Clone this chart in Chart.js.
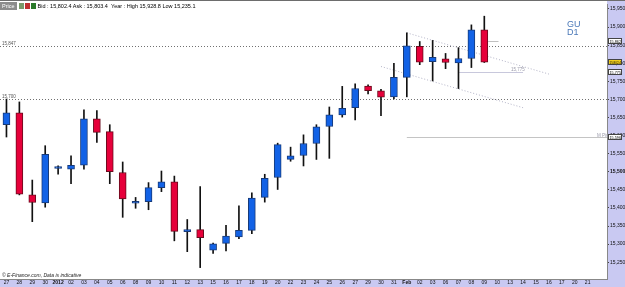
<!DOCTYPE html>
<html>
<head>
<meta charset="utf-8">
<script src="https://cdn.jsdelivr.net/npm/chart.js@4.4.1/dist/chart.umd.min.js"></script>
<style>
  html, body { margin: 0; padding: 0; background: #fff; }
  #wrap { position: relative; width: 625px; height: 287px; overflow: hidden; font-family: "Liberation Sans", Arial, sans-serif; }
  #topline { position: absolute; left: 0; top: 0; width: 625px; height: 1px; background: #6d6d6d; }
  #hdr { position: absolute; left: 0; top: 2px; height: 8px; font-size: 5.5px; line-height: 8px; color: #000; white-space: nowrap; }
  #hdr .btn { display: inline-block; background: #8c8c8c; color: #fff; padding: 0 2px; height: 8px; }
  #hdr .ico { display: inline-block; width: 5px; height: 6px; margin-left: 1px; vertical-align: -1px; }
  #tag { position: absolute; left: 567px; top: 20px; font-size: 9px; line-height: 8px; color: #4a78b8; }
  #copy { position: absolute; left: 2px; top: 272px; font-size: 5px; font-style: italic; color: #222; }
</style>
</head>
<body>
<div id="wrap">
  <canvas id="candles" width="625" height="287"></canvas>
  <div id="topline"></div>
  <div id="hdr"><span class="btn">Price</span> <span class="ico" style="background:#7a9a6a"></span><span class="ico" style="background:#c03030"></span><span class="ico" style="background:#2a7a2a"></span> Bid : 15,802.4 Ask : 15,803.4 &nbsp;Year : High 15,928.8 Low 15,235.1</div>
  <div id="tag">GU<br>D1</div>
  <div id="copy">© E-Finance.com, Data is indicative</div>
</div>
<script>
// x axis day labels (one per slot, incl. empty future slots)
const dayLabels = ['27', '28', '29', '30', '2012', '02', '03', '04', '05', '06', '08', '09', '10', '11', '12', '13',
    '15', '16', '17', '18', '19', '20', '22', '23', '24', '25', '26', '27', '29', '30', '31', 'Feb',
    '02', '03', '06', '07', '08', '09', '10', '13', '14', '15', '16', '17', '20', '21', ''];

// daily GBP/USD candles
const opens = [15630, 15663, 15436, 15414, 15509, 15507, 15518, 15646, 15611, 15498, 15413, 15417, 15456, 15472, 15334, 15340,
    15283, 15302, 15320, 15338, 15429, 15484, 15534, 15545, 15578, 15625, 15657, 15677, 15737, 15724, 15707, 15761,
    15847, 15804, 15812, 15801, 15813, 15892];
const closes = [15663, 15438, 15415, 15548, 15509, 15518, 15646, 15609, 15500, 15425, 15417, 15456, 15472, 15335, 15340, 15318,
    15301, 15322, 15338, 15427, 15482, 15575, 15544, 15578, 15624, 15657, 15675, 15730, 15724, 15706, 15761, 15848,
    15803, 15816, 15802, 15813, 15892, 15803];
const highs = [15701, 15693, 15477, 15572, 15516, 15544, 15671, 15669, 15630, 15527, 15429, 15470, 15502, 15488, 15368, 15459,
    15303, 15352, 15406, 15442, 15493, 15579, 15568, 15602, 15630, 15679, 15736, 15743, 15740, 15728, 15800, 15884,
    15860, 15863, 15827, 15843, 15906, 15930];
const lows = [15596, 15436, 15362, 15402, 15493, 15467, 15507, 15581, 15467, 15374, 15399, 15395, 15445, 15309, 15279, 15235,
    15274, 15281, 15315, 15329, 15416, 15451, 15529, 15516, 15534, 15537, 15651, 15643, 15715, 15655, 15701, 15707,
    15796, 15751, 15785, 15730, 15788, 15802];

// horizontal levels drawn across the chart, with their left-hand labels
const levels = [15847, 15700];
const levelLabels = ['15,847', '15,700'];
// channel lines: [startIndex, startPrice, endIndex, endPrice]
const channel = [[31, 15884, 42, 15770], [29, 15791, 40, 15677]];
const pivot = 15596;
const targetLine = [35, 40, 15775];
const markLine = [37.3, 38.1, 15862];
const lastPrice = 15802.4;
// price boxes on the right axis: [price, text, fill]
const axisBoxes = [[15862, '15,862', '#fff'], [lastPrice, '15,802.4', '#f2cf20'], [15775, '15,775', '#fff'], [pivot, '15,596', '#fff']];

const BLUE = '#1262e6', RED = '#e6003a';

const overlays = {
    id: 'overlays',
    beforeDraw(chart) {
        const { ctx, chartArea: a, width, height } = chart;
        ctx.save();
        ctx.fillStyle = '#fff';
        ctx.fillRect(0, 0, width, height);
        ctx.fillStyle = '#c9c9f2';
        ctx.fillRect(a.right, 0, width - a.right, height);
        ctx.fillRect(0, a.bottom, width, height - a.bottom);
        ctx.restore();
    },
    beforeDatasetsDraw(chart) {
        const { ctx, chartArea: a, scales: { x, y } } = chart;
        ctx.save();
        ctx.lineWidth = 1;
        ctx.setLineDash([1, 2]);
        ctx.strokeStyle = '#707070';
        ctx.font = '4.5px "Liberation Sans", Arial';
        ctx.fillStyle = '#555';
        levels.forEach((lv, i) => {
            const py = Math.round(y.getPixelForValue(lv)) + 0.5;
            ctx.beginPath();
            ctx.moveTo(a.left, py);
            ctx.lineTo(a.right, py);
            ctx.stroke();
            ctx.fillText(levelLabels[i], 2, py - 2);
        });
        ctx.strokeStyle = '#b4b4c8';
        channel.forEach(([i0, p0, i1, p1]) => {
            ctx.beginPath();
            ctx.moveTo(x.getPixelForValue(i0), y.getPixelForValue(p0));
            ctx.lineTo(x.getPixelForValue(i1), y.getPixelForValue(p1));
            ctx.stroke();
        });
        ctx.setLineDash([]);
        // monthly pivot
        ctx.strokeStyle = '#c4c4c4';
        let py = Math.round(y.getPixelForValue(pivot)) + 0.5;
        ctx.beginPath();
        ctx.moveTo(x.getPixelForValue(31), py);
        ctx.lineTo(a.right, py);
        ctx.stroke();
        ctx.fillStyle = '#9a9aaa';
        ctx.fillText('M Piv', a.right - 10, py - 1);
        // target line
        ctx.strokeStyle = '#c8c8dc';
        py = Math.round(y.getPixelForValue(targetLine[2])) + 0.5;
        ctx.beginPath();
        ctx.moveTo(x.getPixelForValue(targetLine[0]), py);
        ctx.lineTo(x.getPixelForValue(targetLine[1]), py);
        ctx.stroke();
        ctx.fillText('15,775', x.getPixelForValue(targetLine[1]) - 12, py - 2);
        // short marker
        ctx.strokeStyle = '#c0c0c0';
        py = Math.round(y.getPixelForValue(markLine[2])) + 0.5;
        ctx.beginPath();
        ctx.moveTo(x.getPixelForValue(markLine[0]), py);
        ctx.lineTo(x.getPixelForValue(markLine[1]), py);
        ctx.stroke();
        ctx.restore();
    },
    afterDraw(chart) {
        const { ctx, chartArea: a, scales: { y } } = chart;
        ctx.save();
        ctx.font = '4px "Liberation Sans", Arial';
        ctx.textBaseline = 'middle';
        axisBoxes.forEach(([v, t, bg]) => {
            const py = Math.round(y.getPixelForValue(v));
            ctx.fillStyle = bg;
            ctx.fillRect(a.right + 1, py - 2, 14, 5);
            ctx.strokeStyle = '#444';
            ctx.strokeRect(a.right + 1.5, py - 2.5, 13, 5);
            ctx.fillStyle = '#000';
            ctx.fillText(t, a.right + 2.5, py + 0.5, 11.5);
        });
        ctx.restore();
    }
};

const createCandleChart = () => {
    const ctx = document.getElementById('candles').getContext('2d');
    const up = opens.map((o, i) => closes[i] >= o);

    new Chart(ctx, {
        type: 'bar',
        data: {
            labels: dayLabels,
            datasets: [{
                label: 'Body',
                data: opens.map((o, i) => [o, closes[i]]),
                backgroundColor: up.map(u => u ? BLUE : RED),
                borderColor: up.map(u => u ? '#173a78' : '#6a0a1c'),
                borderWidth: 1,
                borderSkipped: false,
                barThickness: 7,
                minBarLength: 2,
                grouped: false,
                order: 0
            }, {
                label: 'Wick',
                data: lows.map((l, i) => [l, highs[i]]),
                backgroundColor: '#111',
                barThickness: 1,
                grouped: false,
                order: 1
            }]
        },
        options: {
            responsive: false,
            animation: false,
            devicePixelRatio: 1,
            layout: { padding: { top: 1, left: 0, right: 0, bottom: 0 } },
            plugins: {
                legend: { display: false },
                tooltip: { enabled: false }
            },
            scales: {
                x: {
                    offset: true,
                    afterFit: s => { s.height = 8; },
                    grid: { display: true, drawOnChartArea: false, drawTicks: true, tickLength: 1, color: '#444' },
                    border: { display: true, color: '#888' },
                    ticks: {
                        autoSkip: false,
                        maxRotation: 0,
                        padding: 0,
                        color: '#111',
                        font: ctx => ({ size: 5, family: 'Liberation Sans', weight: (ctx.tick && /[A-Za-z]|2012/.test(ctx.tick.label)) ? 'bold' : 'normal' })
                    }
                },
                y: {
                    position: 'right',
                    min: 15203.5,
                    max: 15963.7,
                    afterFit: s => { s.width = 18; },
                    grid: { display: true, drawOnChartArea: false, drawTicks: true, tickLength: 2, color: '#444' },
                    border: { display: true, color: '#888' },
                    ticks: {
                        stepSize: 50,
                        includeBounds: false,
                        padding: 1,
                        color: '#111',
                        font: ctx => ({ size: 5, family: 'Liberation Sans', weight: ctx.tick && ctx.tick.value === 15500 ? 'bold' : 'normal' }),
                        callback: value => value.toLocaleString('en-US')
                    }
                }
            }
        },
        plugins: [overlays]
    });
};

document.addEventListener('DOMContentLoaded', function() {
    createCandleChart();
});
</script>
</body>
</html>
